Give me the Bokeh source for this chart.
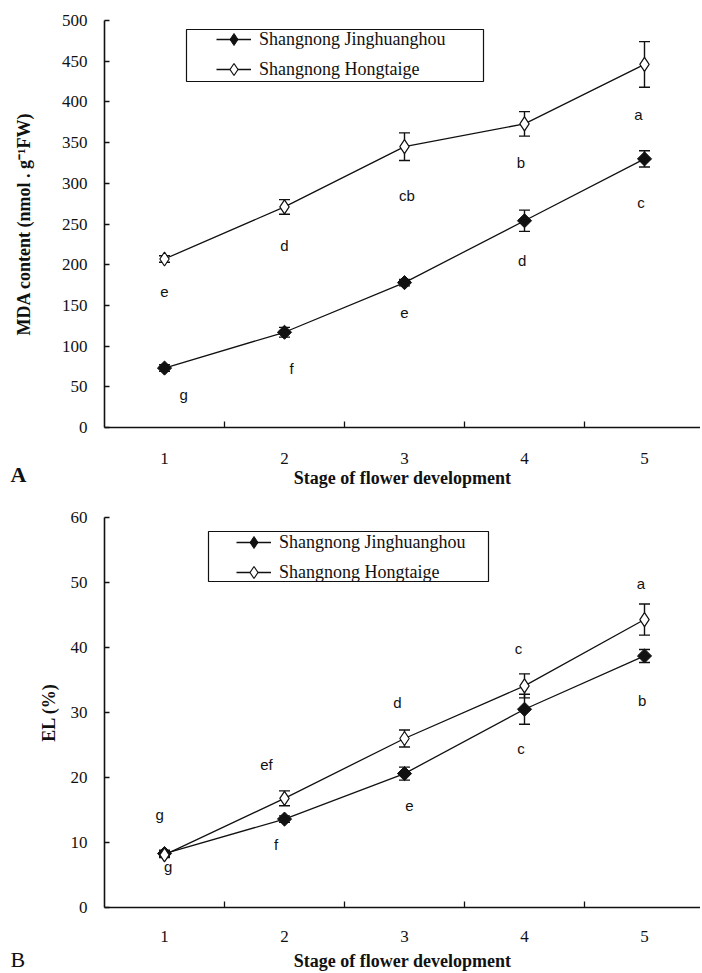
import numpy as np
from bokeh.plotting import figure
from bokeh.models import (ColumnDataSource, Range1d, FixedTicker, Whisker, TeeHead,
                          Legend, LegendItem, BoxAnnotation, Title)
from bokeh.layouts import column
from bokeh.embed import file_html
from bokeh.resources import INLINE
from bokeh.core.properties import value

# ---------------- data ----------------
stages = [1, 2, 3, 4, 5]
stage_bounds = [1.5, 2.5, 3.5, 4.5]
series_names = ["Shangnong Jinghuanghou", "Shangnong Hongtaige"]
x_title = "Stage of flower development"

# Panel A: MDA content
mda_ticks = [0, 50, 100, 150, 200, 250, 300, 350, 400, 450, 500]
mda_jing = [73, 117, 178, 254, 330]
mda_jing_err = [4, 6, 4, 13, 10]
mda_hong = [207, 271, 345, 373, 446]
mda_hong_err = [4, 9, 17, 15, 28]
mda_jing_letters = ["g", "f", "e", "d", "c"]
mda_jing_letter_x = [1.16, 2.06, 3.0, 3.98, 4.97]
mda_jing_letter_y = [40, 72, 141, 205, 277]
mda_hong_letters = ["e", "d", "cb", "b", "a"]
mda_hong_letter_x = [1.0, 2.0, 3.02, 3.97, 4.95]
mda_hong_letter_y = [167, 223, 285, 326, 384]

# Panel B: EL
el_ticks = [0, 10, 20, 30, 40, 50, 60]
el_jing = [8.3, 13.6, 20.6, 30.5, 38.7]
el_jing_err = [0.5, 0.5, 1.0, 2.3, 1.0]
el_hong = [8.1, 16.8, 26.0, 34.1, 44.3]
el_hong_err = [0.4, 1.15, 1.3, 1.85, 2.4]
el_jing_letters = ["g", "f", "e", "c", "b"]
el_jing_letter_x = [1.03, 1.93, 3.04, 3.97, 4.98]
el_jing_letter_y = [6.3, 9.7, 15.6, 24.5, 31.9]
el_hong_letters = ["g", "ef", "d", "c", "a"]
el_hong_letter_x = [0.96, 1.85, 2.94, 3.95, 4.97]
el_hong_letter_y = [14.3, 22.0, 31.6, 39.8, 49.8]

SERIF = "Liberation Serif"
SANS = "Liberation Sans"
INK = "#111111"
FRAME_W = 596
X_START = 0.5
X_END = X_START + FRAME_W / 120.0


def make_panel(ymax, yticks, jing, jing_err, hong, hong_err,
               jl, jlx, jly, hl, hlx, hly, ylabel, ylabel_standoff,
               frame_h, top, bottom, legend_loc, box, xt_standoff):
    p = figure(frame_width=FRAME_W, frame_height=frame_h,
               min_border_left=104, min_border_right=0,
               min_border_top=top, min_border_bottom=bottom,
               x_range=Range1d(X_START, X_END), y_range=Range1d(0, ymax),
               output_backend="svg", toolbar_location=None,
               background_fill_color="white", border_fill_color="white")
    p.outline_line_color = None
    p.grid.visible = False

    # x axis (title is added separately as a Title panel)
    xa = p.xaxis[0]
    xa.ticker = FixedTicker(ticks=stages, minor_ticks=stage_bounds)
    xa.major_tick_in = 0
    xa.major_tick_out = 0
    xa.minor_tick_in = 6
    xa.minor_tick_out = 0
    xa.minor_tick_line_color = INK
    xa.minor_tick_line_width = 1.3
    xa.axis_line_color = INK
    xa.axis_line_width = 1.6
    xa.major_label_text_font = SERIF
    xa.major_label_text_font_size = "17px"
    xa.major_label_text_color = INK
    xa.major_label_standoff = xt_standoff

    # y axis
    ya = p.yaxis[0]
    ya.ticker = FixedTicker(ticks=yticks)
    ya.major_tick_in = 5
    ya.major_tick_out = 0
    ya.major_tick_line_color = INK
    ya.major_tick_line_width = 1.3
    ya.minor_tick_line_color = None
    ya.axis_line_color = INK
    ya.axis_line_width = 1.6
    ya.major_label_text_font = SERIF
    ya.major_label_text_font_size = "17px"
    ya.major_label_text_color = INK
    ya.major_label_standoff = 17
    ya.axis_label = ylabel
    ya.axis_label_text_font = SERIF
    ya.axis_label_text_font_style = "bold"
    ya.axis_label_text_font_size = "18px"
    ya.axis_label_text_color = INK
    ya.axis_label_standoff = ylabel_standoff

    src_j = ColumnDataSource(dict(x=stages, y=jing,
                                  up=[v + e for v, e in zip(jing, jing_err)],
                                  lo=[v - e for v, e in zip(jing, jing_err)]))
    src_h = ColumnDataSource(dict(x=stages, y=hong,
                                  up=[v + e for v, e in zip(hong, hong_err)],
                                  lo=[v - e for v, e in zip(hong, hong_err)]))

    lj = p.line("x", "y", source=src_j, line_color=INK, line_width=1.3)
    lh = p.line("x", "y", source=src_h, line_color=INK, line_width=1.3)
    # diamond for the legend sample, hidden under the rotated squares
    kj = p.scatter("x", "y", source=src_j, marker="diamond", size=8,
                   fill_color=INK, line_color=INK, line_width=1)
    p.scatter("x", "y", source=src_j, marker="square", angle=np.pi / 4,
              size=10, fill_color=INK, line_color=INK, line_width=1)
    sh = p.scatter("x", "y", source=src_h, marker="diamond", size=14,
                   fill_color="white", line_color=INK, line_width=1.2)

    for src in (src_j, src_h):
        w = Whisker(base="x", upper="up", lower="lo", source=src,
                    line_color=INK, line_width=1.4,
                    upper_head=TeeHead(size=11, line_color=INK, line_width=1.4),
                    lower_head=TeeHead(size=11, line_color=INK, line_width=1.4))
        p.add_layout(w)

    # significance letters
    p.text(x=jlx, y=jly, text=jl, text_font=value(SANS), text_font_size="15px",
           text_color=INK, text_align="center", text_baseline="middle")
    p.text(x=hlx, y=hly, text=hl, text_font=value(SANS), text_font_size="15px",
           text_color=INK, text_align="center", text_baseline="middle")

    # legend box + legend
    bl, br, bb, bt = box
    p.add_layout(BoxAnnotation(left=bl, right=br, bottom=bb, top=bt,
                               left_units="screen", right_units="screen",
                               bottom_units="screen", top_units="screen",
                               fill_alpha=0, line_color=INK, line_alpha=1,
                               line_width=1.2))
    legend = Legend(items=[LegendItem(label=series_names[0], renderers=[lj, kj]),
                           LegendItem(label=series_names[1], renderers=[lh, sh])],
                    location=legend_loc, border_line_color=None,
                    background_fill_alpha=0, padding=4, spacing=-8, margin=0,
                    glyph_width=35, glyph_height=30, label_height=20,
                    label_standoff=8, label_text_font=SERIF,
                    label_text_font_size="18px", label_text_color=INK)
    p.add_layout(legend)
    return p


def letter_title(text, bold, standoff):
    return Title(text=text, align="left", offset=-94, standoff=standoff,
                 vertical_align="top", text_font=SERIF, text_font_size="22px",
                 text_font_style="bold" if bold else "normal", text_color=INK)


def axis_title(standoff):
    return Title(text=x_title, align="center", standoff=standoff,
                 vertical_align="top", text_font=SERIF, text_font_size="18px",
                 text_font_style="bold", text_color=INK)


pA = make_panel(500, mda_ticks, mda_jing, mda_jing_err, mda_hong, mda_hong_err,
                mda_jing_letters, mda_jing_letter_x, mda_jing_letter_y,
                mda_hong_letters, mda_hong_letter_x, mda_hong_letter_y,
                "MDA content (nmol . g\u207b\u00b9FW)", 25,
                frame_h=407, top=20, bottom=63, legend_loc=(112, 343),
                box=(82, 379, 346, 398), xt_standoff=25)
pA.add_layout(letter_title("A", True, -10), "below")
pA.add_layout(axis_title(-31), "below")

pB = make_panel(60, el_ticks, el_jing, el_jing_err, el_hong, el_hong_err,
                el_jing_letters, el_jing_letter_x, el_jing_letter_y,
                el_hong_letters, el_hong_letter_x, el_hong_letter_y,
                "EL (%)", 9,
                frame_h=390, top=27, bottom=65, legend_loc=(132, 320),
                box=(104, 384, 326, 376), xt_standoff=23)
pB.add_layout(letter_title("B", False, 4), "below")
pB.add_layout(axis_title(-50), "below")

layout = column(pA, pB, spacing=0)
open("out.html", "w").write(file_html(layout, INLINE))
